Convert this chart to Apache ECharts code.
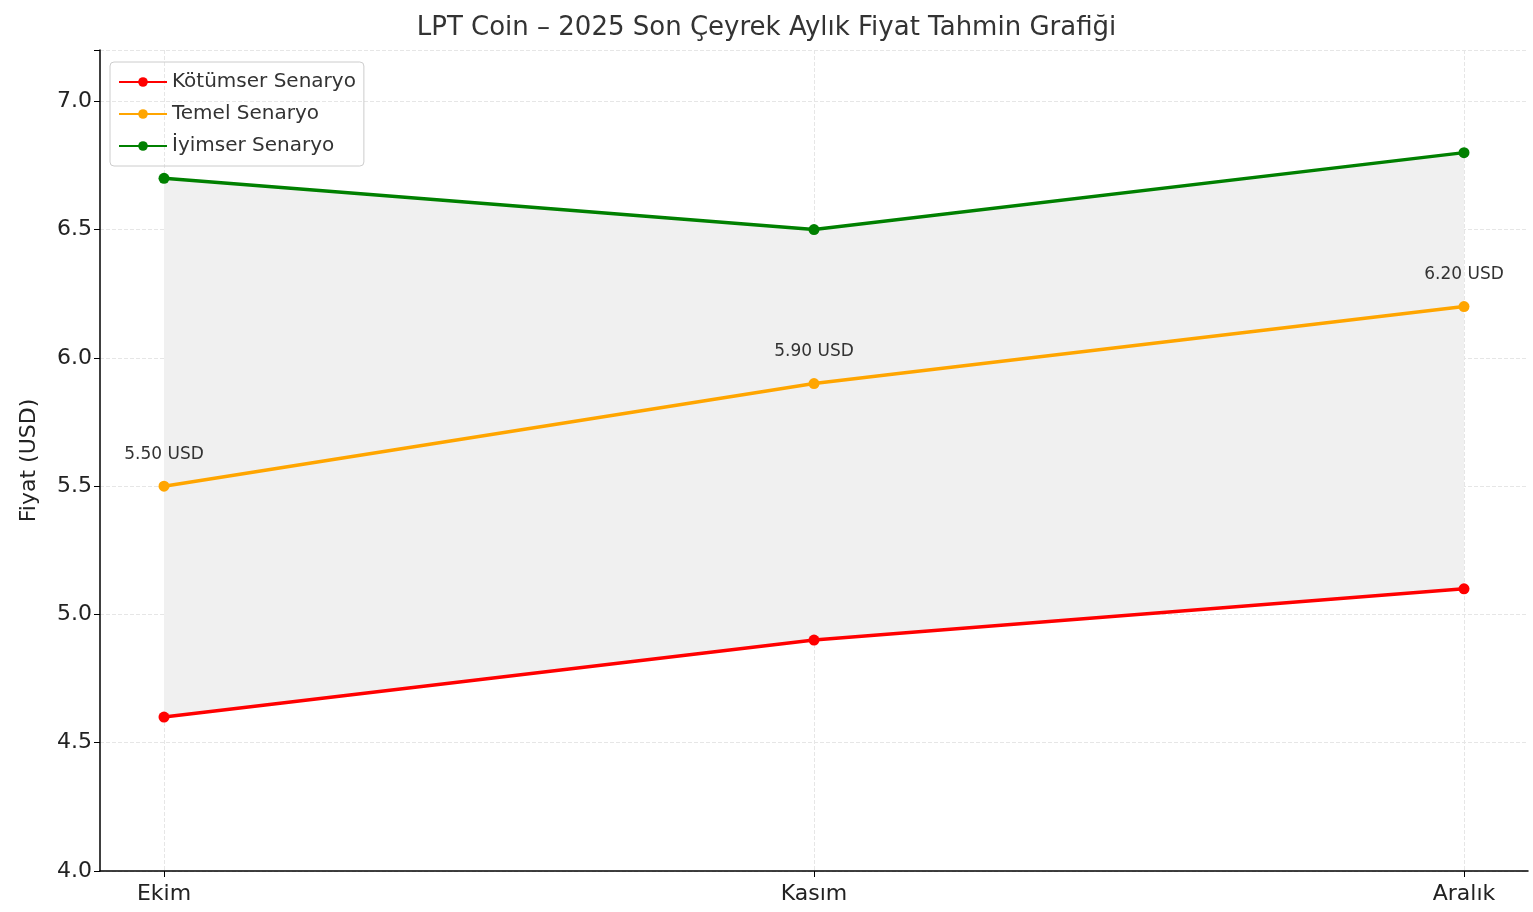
<!DOCTYPE html>
<html><head><meta charset="utf-8">
<script src="https://cdn.jsdelivr.net/npm/echarts@6/dist/echarts.min.js"></script>
<style>html,body{margin:0;padding:0;background:#fff}#c{width:1533px;height:912px}</style>
</head><body><div id="c"></div>
<script>
const categories = ['Ekim', 'Kasım', 'Aralık'];
const pessimistic = [4.6, 4.9, 5.1];
const base = [5.5, 5.9, 6.2];
const optimistic = [6.7, 6.5, 6.8];
const baseLabels = ['5.50 USD', '5.90 USD', '6.20 USD'];
const yTicks = [4.0, 4.5, 5.0, 5.5, 6.0, 6.5, 7.0];

const font = 'DejaVu Sans';
const band = optimistic.map((v, i) => +(v - pessimistic[i]).toFixed(4));
const chart = echarts.init(document.getElementById('c'));
const gridTop = 50, gridBottom = 41;
chart.setOption({
  animation: false,
  textStyle: { fontFamily: font },
  title: { text: 'LPT Coin – 2025 Son Çeyrek Aylık Fiyat Tahmin Grafiği', left: 'center', top: 10,
    textStyle: { fontFamily: font, fontSize: 26, fontWeight: 'normal', color: '#333' } },
  legend: { left: 110, top: 62, orient: 'vertical', itemGap: 12, padding: [10, 8, 10, 8],
    borderColor: '#ccc', borderWidth: 1, borderRadius: 4, itemWidth: 48, itemHeight: 12,
    textStyle: { fontFamily: font, fontSize: 20, color: '#333' },
    data: ['Kötümser Senaryo', 'Temel Senaryo', 'İyimser Senaryo'] },
  grid: [
    { left: 100, right: 5, top: gridTop, bottom: gridBottom },
    { left: 164, right: 69, top: gridTop, bottom: gridBottom }
  ],
  xAxis: [
    { gridIndex: 0, type: 'value', min: 0, max: 1, axisLine: { show: true, lineStyle: { color: '#000', width: 1.5 } },
      axisTick: { show: false }, axisLabel: { show: false }, splitLine: { show: false } },
    { gridIndex: 1, type: 'category', boundaryGap: false, data: categories,
      axisLine: { show: false }, axisTick: { show: true, length: 6, lineStyle: { color: '#000' } },
      axisLabel: { fontSize: 22, color: '#222', margin: 12, fontFamily: font },
      splitLine: { show: true, lineStyle: { type: 'dashed', color: '#e6e6e6' } } }
  ],
  yAxis: [
    { gridIndex: 0, type: 'value', min: 4.0, max: 7.2, interval: 0.5, name: 'Fiyat (USD)', nameLocation: 'middle', nameGap: 60,
      nameTextStyle: { fontSize: 22, color: '#222', fontFamily: font },
      axisLine: { show: true, lineStyle: { color: '#000', width: 1.5 } },
      axisTick: { show: true, length: 6, lineStyle: { color: '#000' } },
      axisLabel: { fontSize: 22, color: '#222', fontFamily: font, formatter: v => yTicks.includes(v) ? v.toFixed(1) : '' },
      splitLine: { show: true, lineStyle: { type: 'dashed', color: '#e6e6e6' } } },
    { gridIndex: 1, type: 'value', min: 4.0, max: 7.2, show: false, splitLine: { show: false } }
  ],
  series: [
    { type: 'line', xAxisIndex: 1, yAxisIndex: 1, stack: 'band', data: pessimistic, symbol: 'none',
      lineStyle: { opacity: 0 }, silent: true, z: 1 },
    { type: 'line', xAxisIndex: 1, yAxisIndex: 1, stack: 'band', data: band, symbol: 'none',
      lineStyle: { opacity: 0 }, areaStyle: { color: '#f0f0f0', opacity: 1 }, silent: true, z: 1 },
    { name: 'Kötümser Senaryo', type: 'line', xAxisIndex: 1, yAxisIndex: 1, data: pessimistic, color: '#ff0000',
      symbol: 'circle', symbolSize: 11, lineStyle: { width: 3.5 }, z: 3 },
    { name: 'Temel Senaryo', type: 'line', xAxisIndex: 1, yAxisIndex: 1, data: base, color: '#ffa500',
      symbol: 'circle', symbolSize: 11, lineStyle: { width: 3.5 }, z: 3,
      label: { show: true, position: 'top', distance: 18, fontSize: 17, color: '#333', fontFamily: font,
        formatter: p => baseLabels[p.dataIndex] } },
    { name: 'İyimser Senaryo', type: 'line', xAxisIndex: 1, yAxisIndex: 1, data: optimistic, color: '#008000',
      symbol: 'circle', symbolSize: 11, lineStyle: { width: 3.5 }, z: 3 }
  ]
});
</script></body></html>
